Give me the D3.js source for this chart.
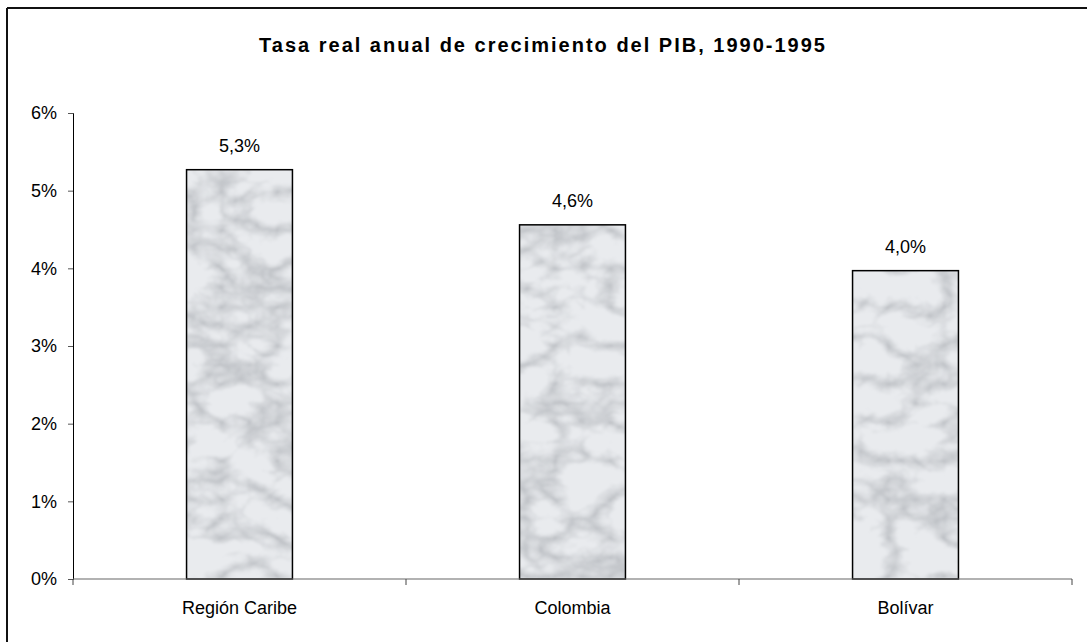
<!DOCTYPE html>
<html><head><meta charset="utf-8">
<script src="https://cdn.jsdelivr.net/npm/d3@7"></script>
<style>body{margin:0;background:#fff}svg{display:block}</style>
</head><body>
<script>
const categories = ["Región Caribe", "Colombia", "Bolívar"];
const values = [0.0527, 0.0456, 0.0397];
const yTicks = [0, 0.01, 0.02, 0.03, 0.04, 0.05, 0.06];
const title = "Tasa real anual de crecimiento del PIB, 1990-1995";

const W = 1087, H = 642;
const svg = d3.select("body").append("svg").attr("width", W).attr("height", H);
const font = "'Liberation Sans', Arial, sans-serif";

// marble texture filter
const defs = svg.append("defs");
const f = defs.append("filter").attr("id", "marble")
  .attr("filterUnits", "objectBoundingBox").attr("x", 0).attr("y", 0).attr("width", 1).attr("height", 1);
f.append("feTurbulence").attr("type", "turbulence").attr("baseFrequency", "0.018 0.026")
  .attr("numOctaves", 4).attr("seed", 11).attr("result", "t");
f.append("feColorMatrix").attr("in", "t").attr("type", "matrix")
  .attr("values", "0 0 0 0 0.42  0 0 0 0 0.44  0 0 0 0 0.47  -1.9 0 0 0 0.8").attr("result", "veins");
f.append("feGaussianBlur").attr("in", "veins").attr("stdDeviation", 1.3).attr("result", "bv");
f.append("feFlood").attr("flood-color", "#e9ebee").attr("result", "bg");
f.append("feComposite").attr("in", "bv").attr("in2", "bg").attr("operator", "over");

// frame
svg.append("line").attr("x1", 7).attr("x2", 7).attr("y1", 8).attr("y2", H).attr("stroke", "#111").attr("stroke-width", 2);
svg.append("line").attr("x1", 7).attr("x2", W).attr("y1", 8).attr("y2", 8).attr("stroke", "#111").attr("stroke-width", 2);

const x0 = 73, x1 = 1072, yTop = 113, yBot = 579;
const x = d3.scaleBand().domain(categories).range([x0, x1]).paddingInner(0.682).paddingOuter(0.341);
const y = d3.scaleLinear().domain([0, 0.06]).range([yBot, yTop]);

// title
svg.append("text").attr("x", 543).attr("y", 52).attr("text-anchor", "middle")
  .attr("font-family", font).attr("font-weight", "bold").attr("font-size", 20)
  .attr("letter-spacing", "2px").text(title);

// y axis
const ya = svg.append("g").attr("transform", `translate(${x0},0)`)
  .call(d3.axisLeft(y).tickValues(yTicks).tickSize(5).tickPadding(11).tickFormat(d => Math.round(d * 100) + "%"));
ya.select(".domain").attr("stroke", "#000");
ya.selectAll(".tick line").attr("stroke", "#555");
ya.selectAll(".tick text").attr("font-family", font).attr("font-size", 18).attr("fill", "#000");

// bars
const bars = svg.append("g");
categories.forEach((c, i) => {
  bars.append("rect").attr("x", x(c)).attr("y", y(values[i]))
    .attr("width", x.bandwidth()).attr("height", y(0) - y(values[i]))
    .attr("filter", "url(#marble)");
  bars.append("rect").attr("x", x(c)).attr("y", y(values[i]))
    .attr("width", x.bandwidth()).attr("height", y(0) - y(values[i]))
    .attr("fill", "none").attr("stroke", "#000").attr("stroke-width", 1.5);
  svg.append("text").attr("x", x(c) + x.bandwidth() / 2).attr("y", y(values[i]) - 18)
    .attr("text-anchor", "middle").attr("font-family", font).attr("font-size", 18)
    .text(d3.format(".1f")(values[i] * 100).replace(".", ",") + "%");
});

// x axis
const step = x.step();
const bounds = [0, 1, 2, 3].map(k => x0 + k * step);
svg.append("line").attr("x1", x0).attr("x2", x1).attr("y1", yBot).attr("y2", yBot).attr("stroke", "#666").attr("stroke-width", 1.2);
svg.selectAll(".xt").data(bounds).enter().append("line")
  .attr("x1", d => d).attr("x2", d => d).attr("y1", yBot).attr("y2", yBot + 6).attr("stroke", "#444");
categories.forEach(c => {
  svg.append("text").attr("x", x(c) + x.bandwidth() / 2).attr("y", 614).attr("text-anchor", "middle")
    .attr("font-family", font).attr("font-size", 18).text(c);
});
</script>
</body></html>
